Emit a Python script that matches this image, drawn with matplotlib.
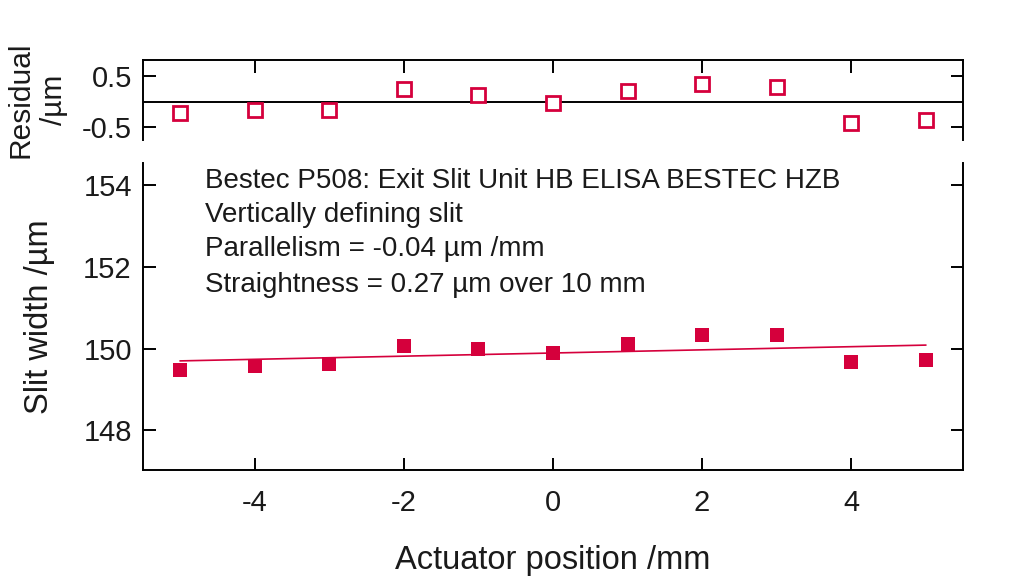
import numpy as np
import matplotlib
matplotlib.use("Agg")
import matplotlib.pyplot as plt

plt.rcParams['font.family'] = ['Liberation Sans', 'DejaVu Sans']

positions = [-5, -4, -3, -2, -1, 0, 1, 2, 3, 4, 5]
slit_width = [149.48, 149.58, 149.63, 150.07, 150.00, 149.88, 150.12, 150.32, 150.32, 149.66, 149.73]
residuals = [-0.22, -0.16, -0.16, 0.25, 0.12, -0.02, 0.20, 0.35, 0.29, -0.41, -0.37]
x_ticks = [-4, -2, 0, 2, 4]
main_yticks = [148, 150, 152, 154]
res_yticks = [-0.5, 0.5]
annotation = ["Bestec P508: Exit Slit Unit HB ELISA BESTEC HZB",
              "Vertically defining slit",
              "Parallelism = -0.04 \u00b5m /mm",
              "Straightness = 0.27 \u00b5m over 10 mm"]

red = '#D5003C'
txt = '#1a1a1a'
fig = plt.figure(figsize=(10.24, 5.83), dpi=100)
ax = fig.add_axes([0.1396, 0.1938, 0.8008, 0.5266])
axr = fig.add_axes([0.1396, 0.7599, 0.8008, 0.1372])

x = np.array(positions, dtype=float)
y = np.array(slit_width)
coef = np.polyfit(x, y, 1)
ax.plot(x, np.polyval(coef, x), color=red, lw=1.2, zorder=2)
ax.plot(x, y, 's', color=red, ms=10, mew=0, zorder=3)
ax.set_xlim(-5.5, 5.5)
ax.set_ylim(147.02, 154.55)
ax.set_xticks(x_ticks)
ax.set_xticklabels([str(t) for t in x_ticks])
ax.set_yticks(main_yticks)
ax.spines['top'].set_visible(False)
for s in ['left', 'right', 'bottom']:
    ax.spines[s].set_linewidth(1.4)
ax.tick_params(direction='in', length=9, width=1.4, labelsize=21, right=True, pad=8,
               labelcolor=txt)
ax.tick_params(axis='x', pad=14)
ax.set_ylabel("Slit width /\u00b5m", fontsize=23.5, labelpad=20, color=txt)
ax.set_xlabel("Actuator position /mm", fontsize=23.5, labelpad=20, color=txt)
ys = [0.941, 0.831, 0.720, 0.603]
for t, yy in zip(annotation, ys):
    ax.text(0.0756, yy, t, transform=ax.transAxes, fontsize=20, va='center', ha='left',
            color=txt)

axr.axhline(0, color='black', lw=1.4)
axr.plot(x, residuals, 's', mfc='white', mec=red, mew=2, ms=10, zorder=3)
axr.set_xlim(-5.5, 5.5)
axr.set_ylim(-0.75, 0.81)
axr.set_xticks(x_ticks)
axr.set_yticks(res_yticks)
axr.set_yticklabels(['-0.5', '0.5'])
axr.spines['bottom'].set_visible(False)
for s in ['left', 'right', 'top']:
    axr.spines[s].set_linewidth(1.4)
axr.tick_params(direction='in', length=9, width=1.4, labelsize=21, right=True,
                top=True, bottom=False, labelbottom=False, pad=8, labelcolor=txt)
axr.set_ylabel("Residual\n/\u00b5m", fontsize=21.5, labelpad=10, linespacing=1.25,
               color=txt)

fig.savefig("out.png", dpi=100)
